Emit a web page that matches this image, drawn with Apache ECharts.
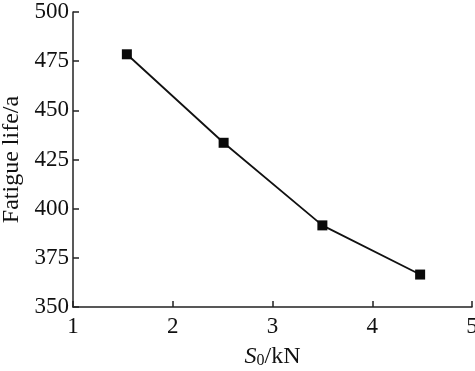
<!DOCTYPE html>
<html><head><meta charset="utf-8">
<script src="https://cdn.jsdelivr.net/npm/echarts@6/dist/echarts.min.js"></script>
<style>html,body{margin:0;padding:0;background:#fff}#c{width:475px;height:371px}</style>
</head><body><div id="c"></div>
<script>
const loadKN = [1.54, 2.51, 3.5, 4.48];
const fatigueLife = [478.5, 433.5, 391.5, 366.5];
const xTicks = [1, 2, 3, 4, 5];
const yTicks = [350, 375, 400, 425, 450, 475, 500];

const font = '"Liberation Serif", "DejaVu Serif", serif';
const chart = echarts.init(document.getElementById('c'), null, {renderer: 'canvas'});
chart.setOption({
  animation: false,
  backgroundColor: '#fff',
  grid: {left: 73, right: 3, top: 12, bottom: 64, containLabel: false, outerBoundsMode: 'none'},
  xAxis: {
    type: 'value', min: xTicks[0], max: xTicks[xTicks.length-1], interval: 1,
    axisLine: {lineStyle: {color: '#222', width: 1.5}},
    axisTick: {inside: true, length: 6, lineStyle: {color: '#222', width: 1.5}},
    splitLine: {show: false},
    axisLabel: {color: '#111', fontFamily: font, fontSize: 23, margin: 8, showMaxLabel: true, hideOverlap: false},
    name: '{i|S}{s|0}{n|/kN}', nameLocation: 'middle', nameGap: 37,
    nameTextStyle: {
      rich: {
        i: {fontFamily: font, fontStyle: 'italic', fontSize: 24, color: '#111'},
        s: {fontFamily: font, fontSize: 16, color: '#111', verticalAlign: 'bottom', padding: [9,0,0,0]},
        n: {fontFamily: font, fontSize: 24, color: '#111'}
      }
    }
  },
  yAxis: {
    type: 'value', min: yTicks[0], max: yTicks[yTicks.length-1], interval: 25,
    axisLine: {show: true, lineStyle: {color: '#222', width: 1.5}},
    axisTick: {show: true, inside: true, length: 6, lineStyle: {color: '#222', width: 1.5}},
    splitLine: {show: false},
    axisLabel: {color: '#111', fontFamily: font, fontSize: 23, margin: 4},
    name: 'Fatigue life/a', nameLocation: 'middle', nameGap: 46, nameRotate: 90,
    nameTextStyle: {fontFamily: font, fontSize: 24, color: '#111'}
  },
  series: [{
    type: 'line',
    data: loadKN.map((x, i) => [x, fatigueLife[i]]),
    symbol: 'rect', symbolSize: 10,
    lineStyle: {color: '#111', width: 1.8},
    itemStyle: {color: '#0a0a0a'}
  }]
});
</script></body></html>
